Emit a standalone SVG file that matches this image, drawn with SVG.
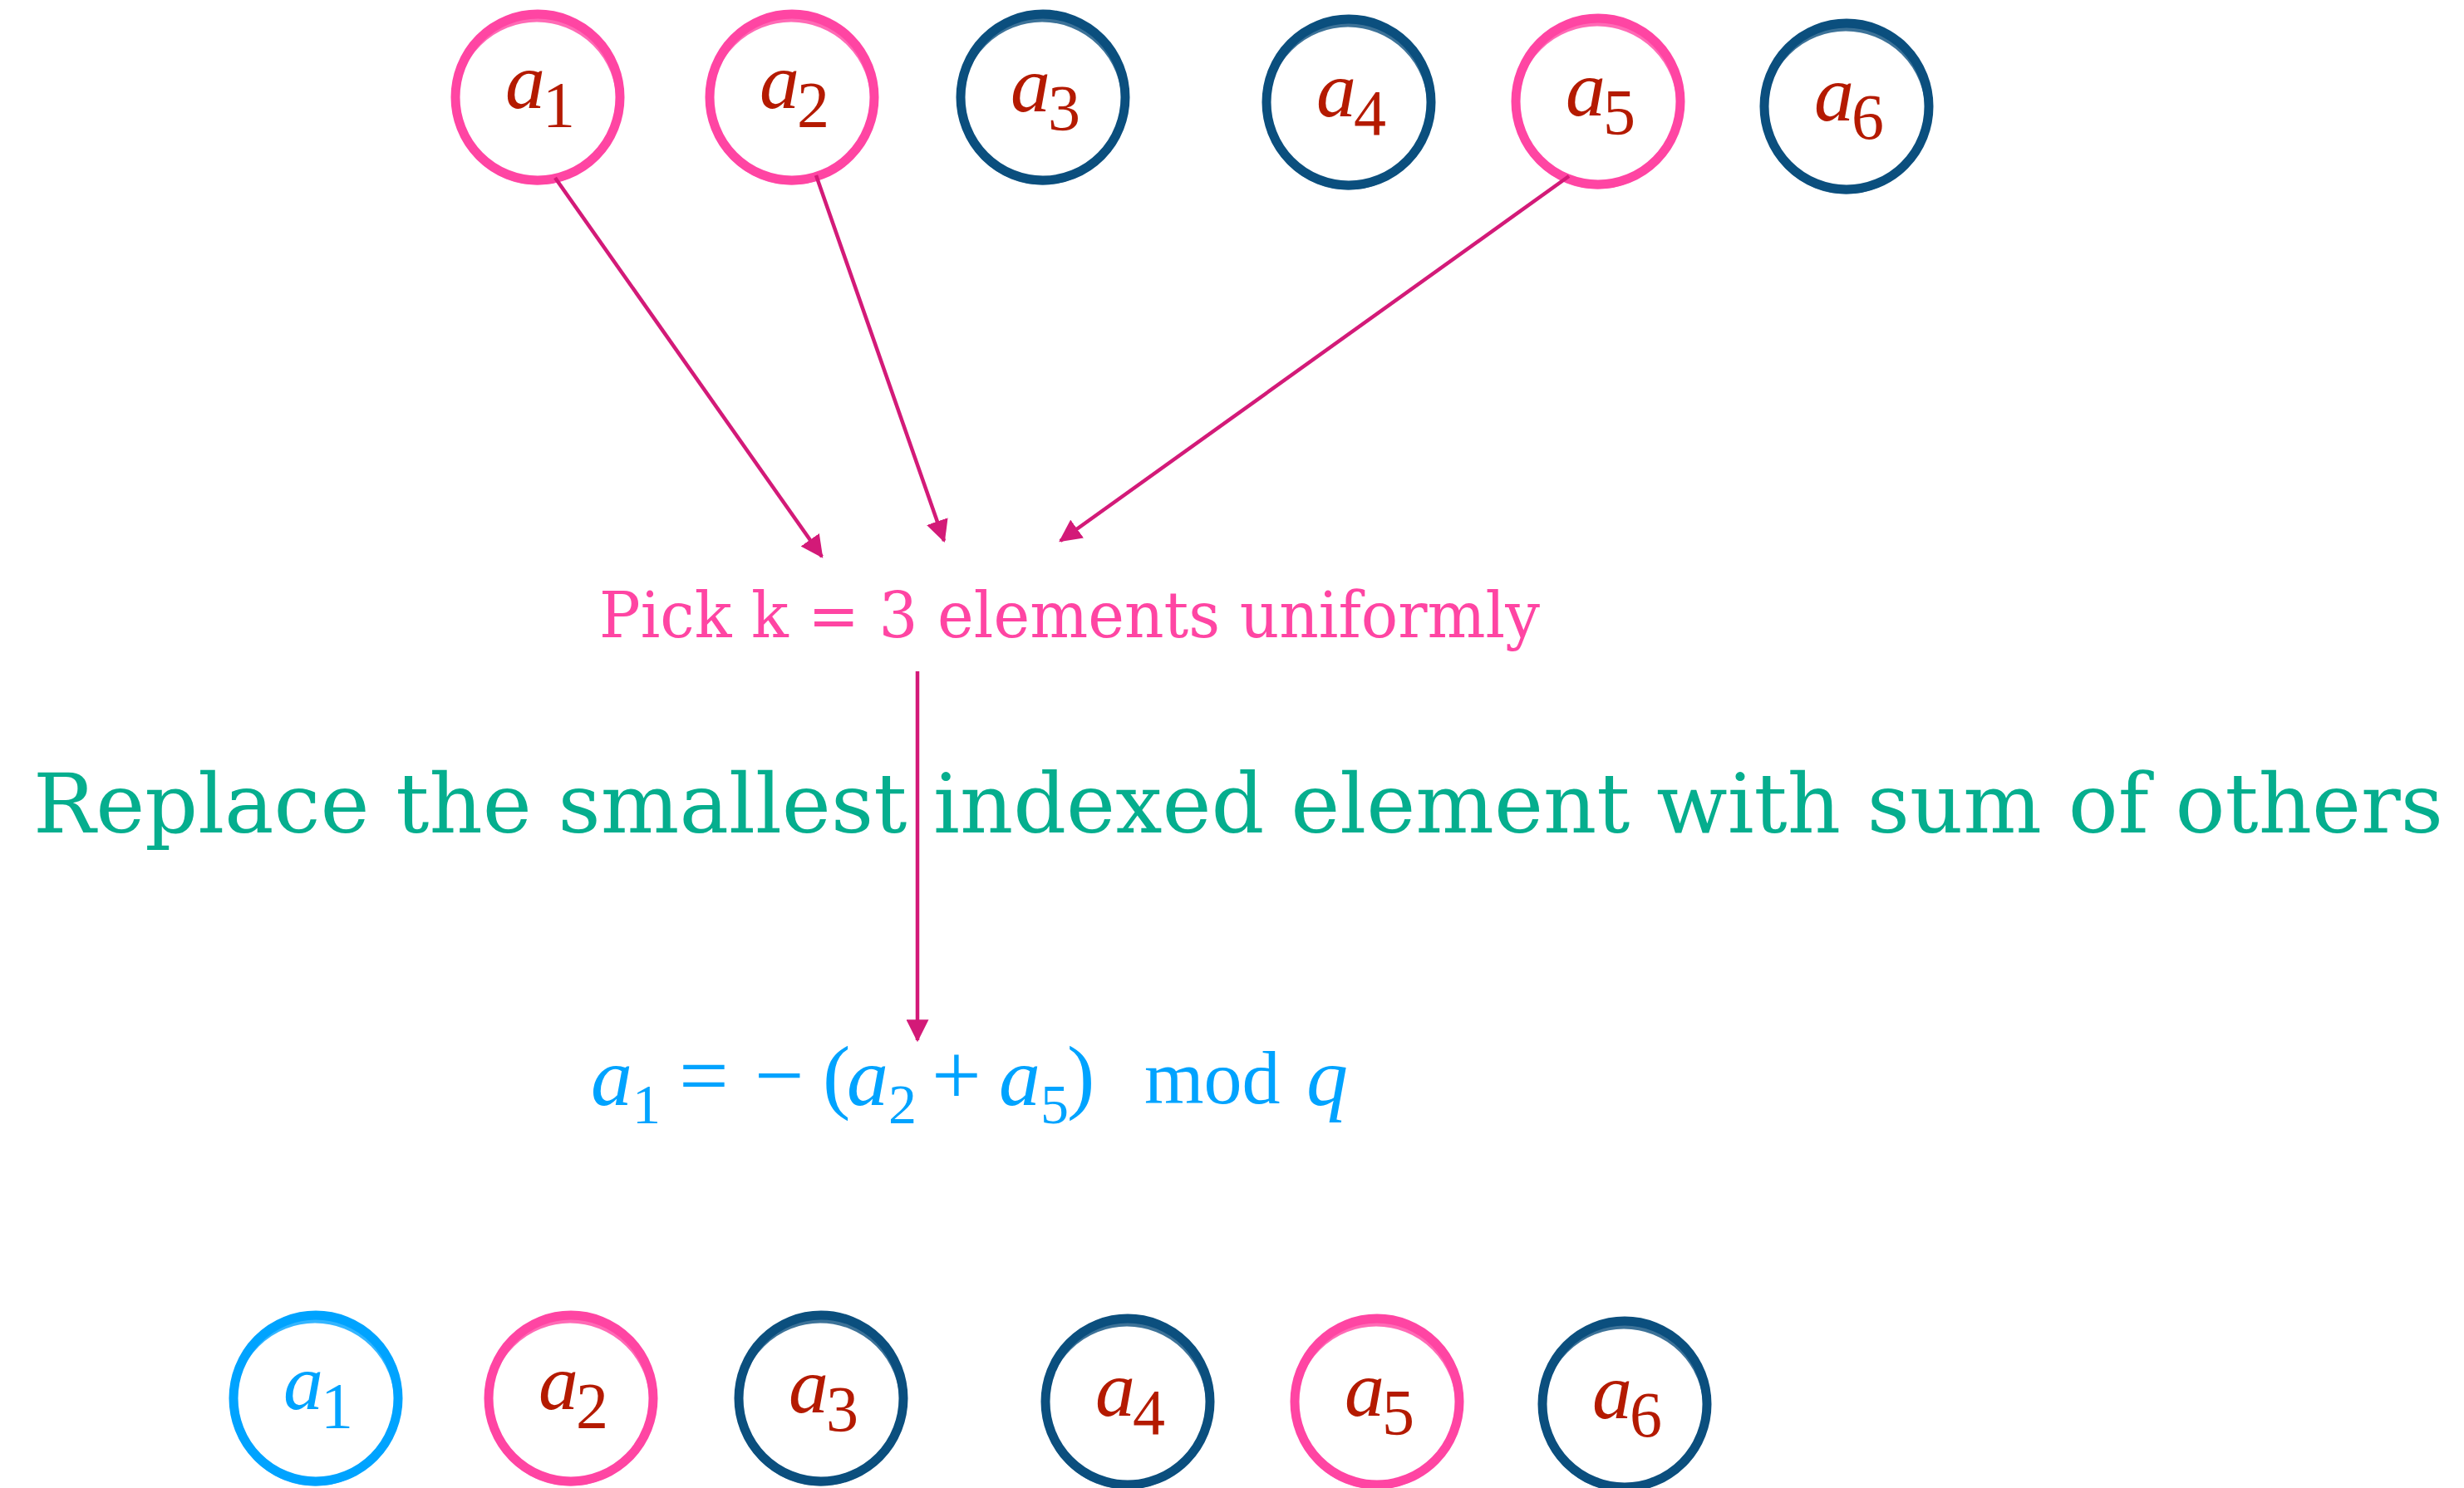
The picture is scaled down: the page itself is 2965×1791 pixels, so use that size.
<svg xmlns="http://www.w3.org/2000/svg" width="2965" height="1791" viewBox="0 0 2965 1791">
<style>
.ring{fill:none;stroke-width:11}
.ring2{fill:none;stroke-width:5;opacity:0.8}
.pink{stroke:#FF45A3}
.navy{stroke:#0B4F7E}
.sky{stroke:#00A3FF}
.lbl{font-family:"Liberation Serif","Times New Roman",serif;fill:#B41A00}
.lbl.b{fill:#00A3FF}
.var{font-style:italic;font-size:96px}
.sub{font-size:78px;font-style:normal}
.conn{stroke:#D31A78;stroke-width:4.5;fill:none}
.math{font-family:"Liberation Serif","Times New Roman",serif;fill:#00A3FF;font-size:100px}
.mi{font-style:italic}
.ms{font-size:68px}
.op{font-size:106px}
</style>
<defs>
<marker id="ah" markerWidth="6" markerHeight="6" refX="5.5" refY="3" orient="auto" markerUnits="strokeWidth" viewBox="0 0 6 6">
<path d="M0,0 L6,3 L0,6 Z" fill="#D31A78"/>
</marker>
</defs>
<rect width="2965" height="1791" fill="#ffffff"/>

<g id="top-a1">
<ellipse class="ring pink" cx="647" cy="117" rx="99" ry="100"/>
<ellipse class="ring2 pink" cx="646" cy="122" rx="98" ry="98"/>
<text class="lbl" x="608" y="130"><tspan class="var">a</tspan><tspan class="sub" dx="-3" dy="22">1</tspan></text>
</g>
<g id="top-a2">
<ellipse class="ring pink" cx="953" cy="117" rx="99" ry="100"/>
<ellipse class="ring2 pink" cx="952" cy="122" rx="98" ry="98"/>
<text class="lbl" x="914" y="130"><tspan class="var">a</tspan><tspan class="sub" dx="-3" dy="22">2</tspan></text>
</g>
<g id="top-a3">
<ellipse class="ring navy" cx="1255" cy="117" rx="99" ry="100"/>
<ellipse class="ring2 navy" cx="1254" cy="122" rx="98" ry="98"/>
<text class="lbl" x="1216" y="134"><tspan class="var">a</tspan><tspan class="sub" dx="-3" dy="22">3</tspan></text>
</g>
<g id="top-a4">
<ellipse class="ring navy" cx="1623" cy="123" rx="99" ry="100"/>
<ellipse class="ring2 navy" cx="1622" cy="128" rx="98" ry="98"/>
<text class="lbl" x="1584" y="140"><tspan class="var">a</tspan><tspan class="sub" dx="-3" dy="22">4</tspan></text>
</g>
<g id="top-a5">
<ellipse class="ring pink" cx="1923" cy="122" rx="99" ry="100"/>
<ellipse class="ring2 pink" cx="1922" cy="127" rx="98" ry="98"/>
<text class="lbl" x="1884" y="139"><tspan class="var">a</tspan><tspan class="sub" dx="-3" dy="22">5</tspan></text>
</g>
<g id="top-a6">
<ellipse class="ring navy" cx="2222" cy="128" rx="99" ry="100"/>
<ellipse class="ring2 navy" cx="2221" cy="133" rx="98" ry="98"/>
<text class="lbl" x="2183" y="145"><tspan class="var">a</tspan><tspan class="sub" dx="-3" dy="22">6</tspan></text>
</g>

<g id="connectors">
<line class="conn" x1="668" y1="214" x2="989" y2="670" marker-end="url(#ah)"/>
<line class="conn" x1="982" y1="211" x2="1136" y2="651" marker-end="url(#ah)"/>
<line class="conn" x1="1888" y1="212" x2="1276" y2="651" marker-end="url(#ah)"/>
<line class="conn" x1="1104" y1="808" x2="1104" y2="1252" marker-end="url(#ah)"/>
</g>

<g id="pick-label">
<text x="721" y="767" font-family="'DejaVu Serif',serif" font-size="76" fill="#FF45A3" textLength="1132" lengthAdjust="spacingAndGlyphs">Pick k = 3 elements uniformly</text>
</g>

<g id="replace-label">
<text x="40" y="1002" font-family="'DejaVu Serif',serif" font-size="100" fill="#05AE8E" textLength="2900" lengthAdjust="spacingAndGlyphs">Replace the smallest indexed element with sum of others</text>
</g>

<g id="formula">
<text class="math"><tspan class="mi" x="711" y="1330">a</tspan><tspan class="ms" x="761" y="1352">1</tspan><tspan class="op" x="817" y="1330">=</tspan><tspan class="op" x="908" y="1330">−</tspan><tspan x="990" y="1328">(</tspan><tspan class="mi" x="1019" y="1330">a</tspan><tspan class="ms" x="1069" y="1352">2</tspan><tspan class="op" x="1121" y="1330">+</tspan><tspan class="mi" x="1202" y="1330">a</tspan><tspan class="ms" x="1252" y="1352">5</tspan><tspan x="1284" y="1328">)</tspan><tspan x="1377" y="1328" font-size="92">mod</tspan><tspan class="mi" x="1572" y="1330">q</tspan></text>
</g>

<g id="bot-a1">
<ellipse class="ring sky" cx="380" cy="1683" rx="99" ry="100"/>
<ellipse class="ring2 sky" cx="379" cy="1688" rx="98" ry="98"/>
<text class="lbl b" x="341" y="1696"><tspan class="var">a</tspan><tspan class="sub" dx="-3" dy="22">1</tspan></text>
</g>
<g id="bot-a2">
<ellipse class="ring pink" cx="687" cy="1683" rx="99" ry="100"/>
<ellipse class="ring2 pink" cx="686" cy="1688" rx="98" ry="98"/>
<text class="lbl" x="648" y="1696"><tspan class="var">a</tspan><tspan class="sub" dx="-3" dy="22">2</tspan></text>
</g>
<g id="bot-a3">
<ellipse class="ring navy" cx="988" cy="1683" rx="99" ry="100"/>
<ellipse class="ring2 navy" cx="987" cy="1688" rx="98" ry="98"/>
<text class="lbl" x="949" y="1700"><tspan class="var">a</tspan><tspan class="sub" dx="-3" dy="22">3</tspan></text>
</g>
<g id="bot-a4">
<ellipse class="ring navy" cx="1357" cy="1687" rx="99" ry="100"/>
<ellipse class="ring2 navy" cx="1356" cy="1692" rx="98" ry="98"/>
<text class="lbl" x="1318" y="1704"><tspan class="var">a</tspan><tspan class="sub" dx="-3" dy="22">4</tspan></text>
</g>
<g id="bot-a5">
<ellipse class="ring pink" cx="1657" cy="1687" rx="99" ry="100"/>
<ellipse class="ring2 pink" cx="1656" cy="1692" rx="98" ry="98"/>
<text class="lbl" x="1618" y="1704"><tspan class="var">a</tspan><tspan class="sub" dx="-3" dy="22">5</tspan></text>
</g>
<g id="bot-a6">
<ellipse class="ring navy" cx="1955" cy="1690" rx="99" ry="100"/>
<ellipse class="ring2 navy" cx="1954" cy="1695" rx="98" ry="98"/>
<text class="lbl" x="1916" y="1707"><tspan class="var">a</tspan><tspan class="sub" dx="-3" dy="22">6</tspan></text>
</g>
</svg>
